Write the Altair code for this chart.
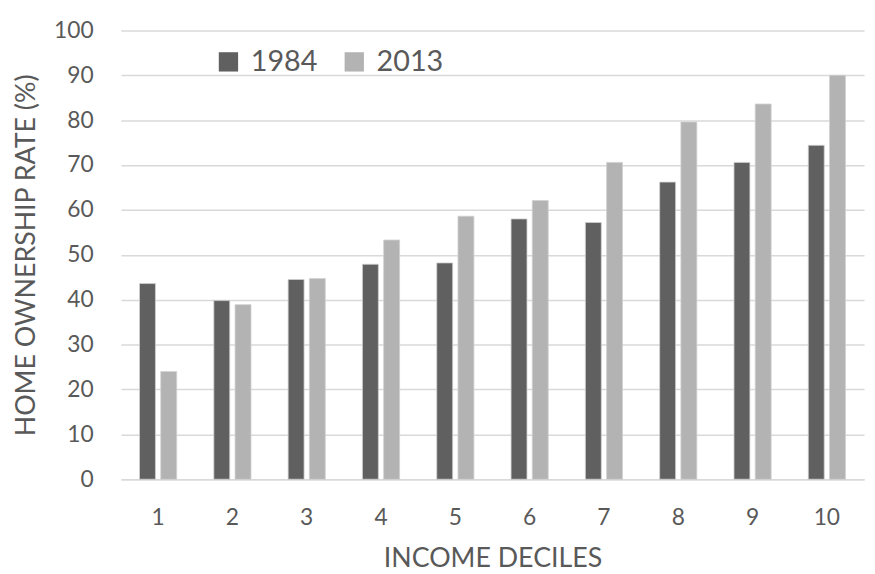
import altair as alt
import pandas as pd

deciles = ["1", "2", "3", "4", "5", "6", "7", "8", "9", "10"]
rate_1984 = [43.6, 39.8, 44.5, 47.9, 48.2, 58.0, 57.2, 66.2, 70.6, 74.4]
rate_2013 = [24.0, 38.9, 44.7, 53.3, 58.6, 62.1, 70.6, 79.6, 83.6, 90.0]
years = ["1984", "2013"]

rows = []
for d, a, b in zip(deciles, rate_1984, rate_2013):
    rows.append({"decile": d, "year": "1984", "rate": a})
    rows.append({"decile": d, "year": "2013", "rate": b})
df = pd.DataFrame(rows)

FONT = "Lato"
TXT = "#595959"

chart = alt.Chart(df).mark_bar(stroke="#d0d0d0", strokeWidth=0.8).encode(
    x=alt.X("decile:N", sort=deciles,
            scale=alt.Scale(paddingInner=0.5, paddingOuter=0.25),
            axis=alt.Axis(title="INCOME DECILES", labelAngle=0, ticks=False,
                          labelPadding=28, labelFontSize=23, titleFontSize=27,
                          titlePadding=16, domainColor="#d9d9d9", domainWidth=1.5,
                          labelColor=TXT, titleColor=TXT, titleFontWeight="normal",
                          labelFont=FONT, titleFont=FONT)),
    xOffset=alt.XOffset("year:N", sort=years, scale=alt.Scale(paddingInner=0.25)),
    y=alt.Y("rate:Q", scale=alt.Scale(domain=[0, 100], nice=False),
            axis=alt.Axis(title="HOME OWNERSHIP RATE (%)", values=list(range(0, 101, 10)),
                          domain=False, ticks=False, labelPadding=28, labelFontSize=23,
                          titleFontSize=27, titlePadding=13, gridColor="#d9d9d9",
                          gridWidth=1.5, labelColor=TXT, titleColor=TXT,
                          titleFontWeight="normal", labelFont=FONT, titleFont=FONT)),
    color=alt.Color("year:N", sort=years,
                    scale=alt.Scale(domain=years, range=["#606060", "#b3b3b3"]),
                    legend=alt.Legend(title=None, orient="none", legendX=94, legendY=17,
                                      direction="horizontal", symbolType="square",
                                      symbolSize=380, symbolStrokeWidth=0,
                                      labelFontSize=29, labelFont=FONT, labelColor=TXT,
                                      columnPadding=22, labelOffset=8)),
).properties(
    width=750, height=453,
    autosize=alt.AutoSizeParams(type="none"),
    padding={"left": 114, "top": 20, "right": 3, "bottom": 92},
).configure_view(stroke=None)

chart.save("out.html", embed_options={"renderer": "svg", "actions": False})
